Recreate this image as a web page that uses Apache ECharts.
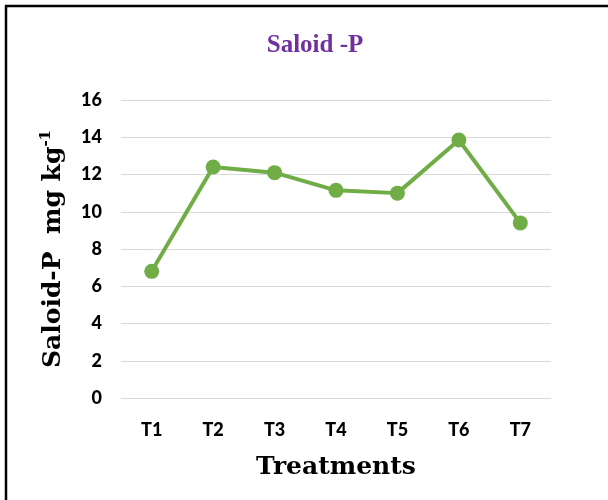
<!DOCTYPE html>
<html>
<head>
<meta charset="utf-8">
<script src="https://cdn.jsdelivr.net/npm/echarts@6/dist/echarts.min.js"></script>
<style>
  html, body { margin: 0; padding: 0; background: #fff; }
  #chart { width: 608px; height: 500px; }
</style>
</head>
<body>
<div id="chart"></div>
<script>
// data
const treatments = ['T1', 'T2', 'T3', 'T4', 'T5', 'T6', 'T7'];
const saloidP = [6.8, 12.4, 12.1, 11.15, 11.0, 13.85, 9.4];
const yTicks = { min: 0, max: 16, interval: 2 };

const chart = echarts.init(document.getElementById('chart'));
const labelFont = { fontFamily: 'Lato, sans-serif', fontWeight: 900, fontSize: 18, color: '#000' };

chart.setOption({
  animation: false,
  title: {
    text: 'Saloid -P',
    left: 310,
    top: 28,
    textAlign: 'center',
    textStyle: { fontFamily: 'Liberation Serif', fontWeight: 'bold', fontSize: 25, color: '#7030A0' },
  },
  graphic: [{
    type: 'rect',
    shape: { x: 6, y: 6, width: 800, height: 800 },
    style: { fill: 'none', stroke: '#000', lineWidth: 2.5 },
  }],
  grid: { left: 121, right: 57, top: 100, bottom: 102 },
  xAxis: {
    type: 'category',
    data: treatments,
    axisLine: { lineStyle: { color: '#d9d9d9' } },
    axisTick: { show: false },
    axisLabel: Object.assign({ margin: 23 }, labelFont),
    name: 'Treatments',
    nameLocation: 'middle',
    nameGap: 57,
    nameTextStyle: { fontFamily: 'DejaVu Serif', fontWeight: 'bold', fontSize: 25, color: '#000' },
  },
  yAxis: {
    type: 'value',
    min: yTicks.min,
    max: yTicks.max,
    interval: yTicks.interval,
    axisLine: { show: false },
    axisTick: { show: false },
    splitLine: { lineStyle: { color: '#d9d9d9' } },
    axisLabel: Object.assign({ margin: 19 }, labelFont),
    name: '{m|Saloid-P  mg kg}{s|-1}',
    nameLocation: 'middle',
    nameRotate: 90,
    nameGap: 53,
    nameTextStyle: {
      rich: {
        m: { fontFamily: 'DejaVu Serif', fontWeight: 'bold', fontSize: 25, color: '#000' },
        s: { fontFamily: 'DejaVu Serif', fontWeight: 'bold', fontSize: 15, color: '#000', verticalAlign: 'top', padding: [0, 0, 14, 0] },
      },
    },
  },
  series: [{
    type: 'line',
    data: saloidP,
    symbol: 'circle',
    symbolSize: 15,
    lineStyle: { color: '#70AD47', width: 4 },
    itemStyle: { color: '#70AD47' },
  }],
});
</script>
</body>
</html>
